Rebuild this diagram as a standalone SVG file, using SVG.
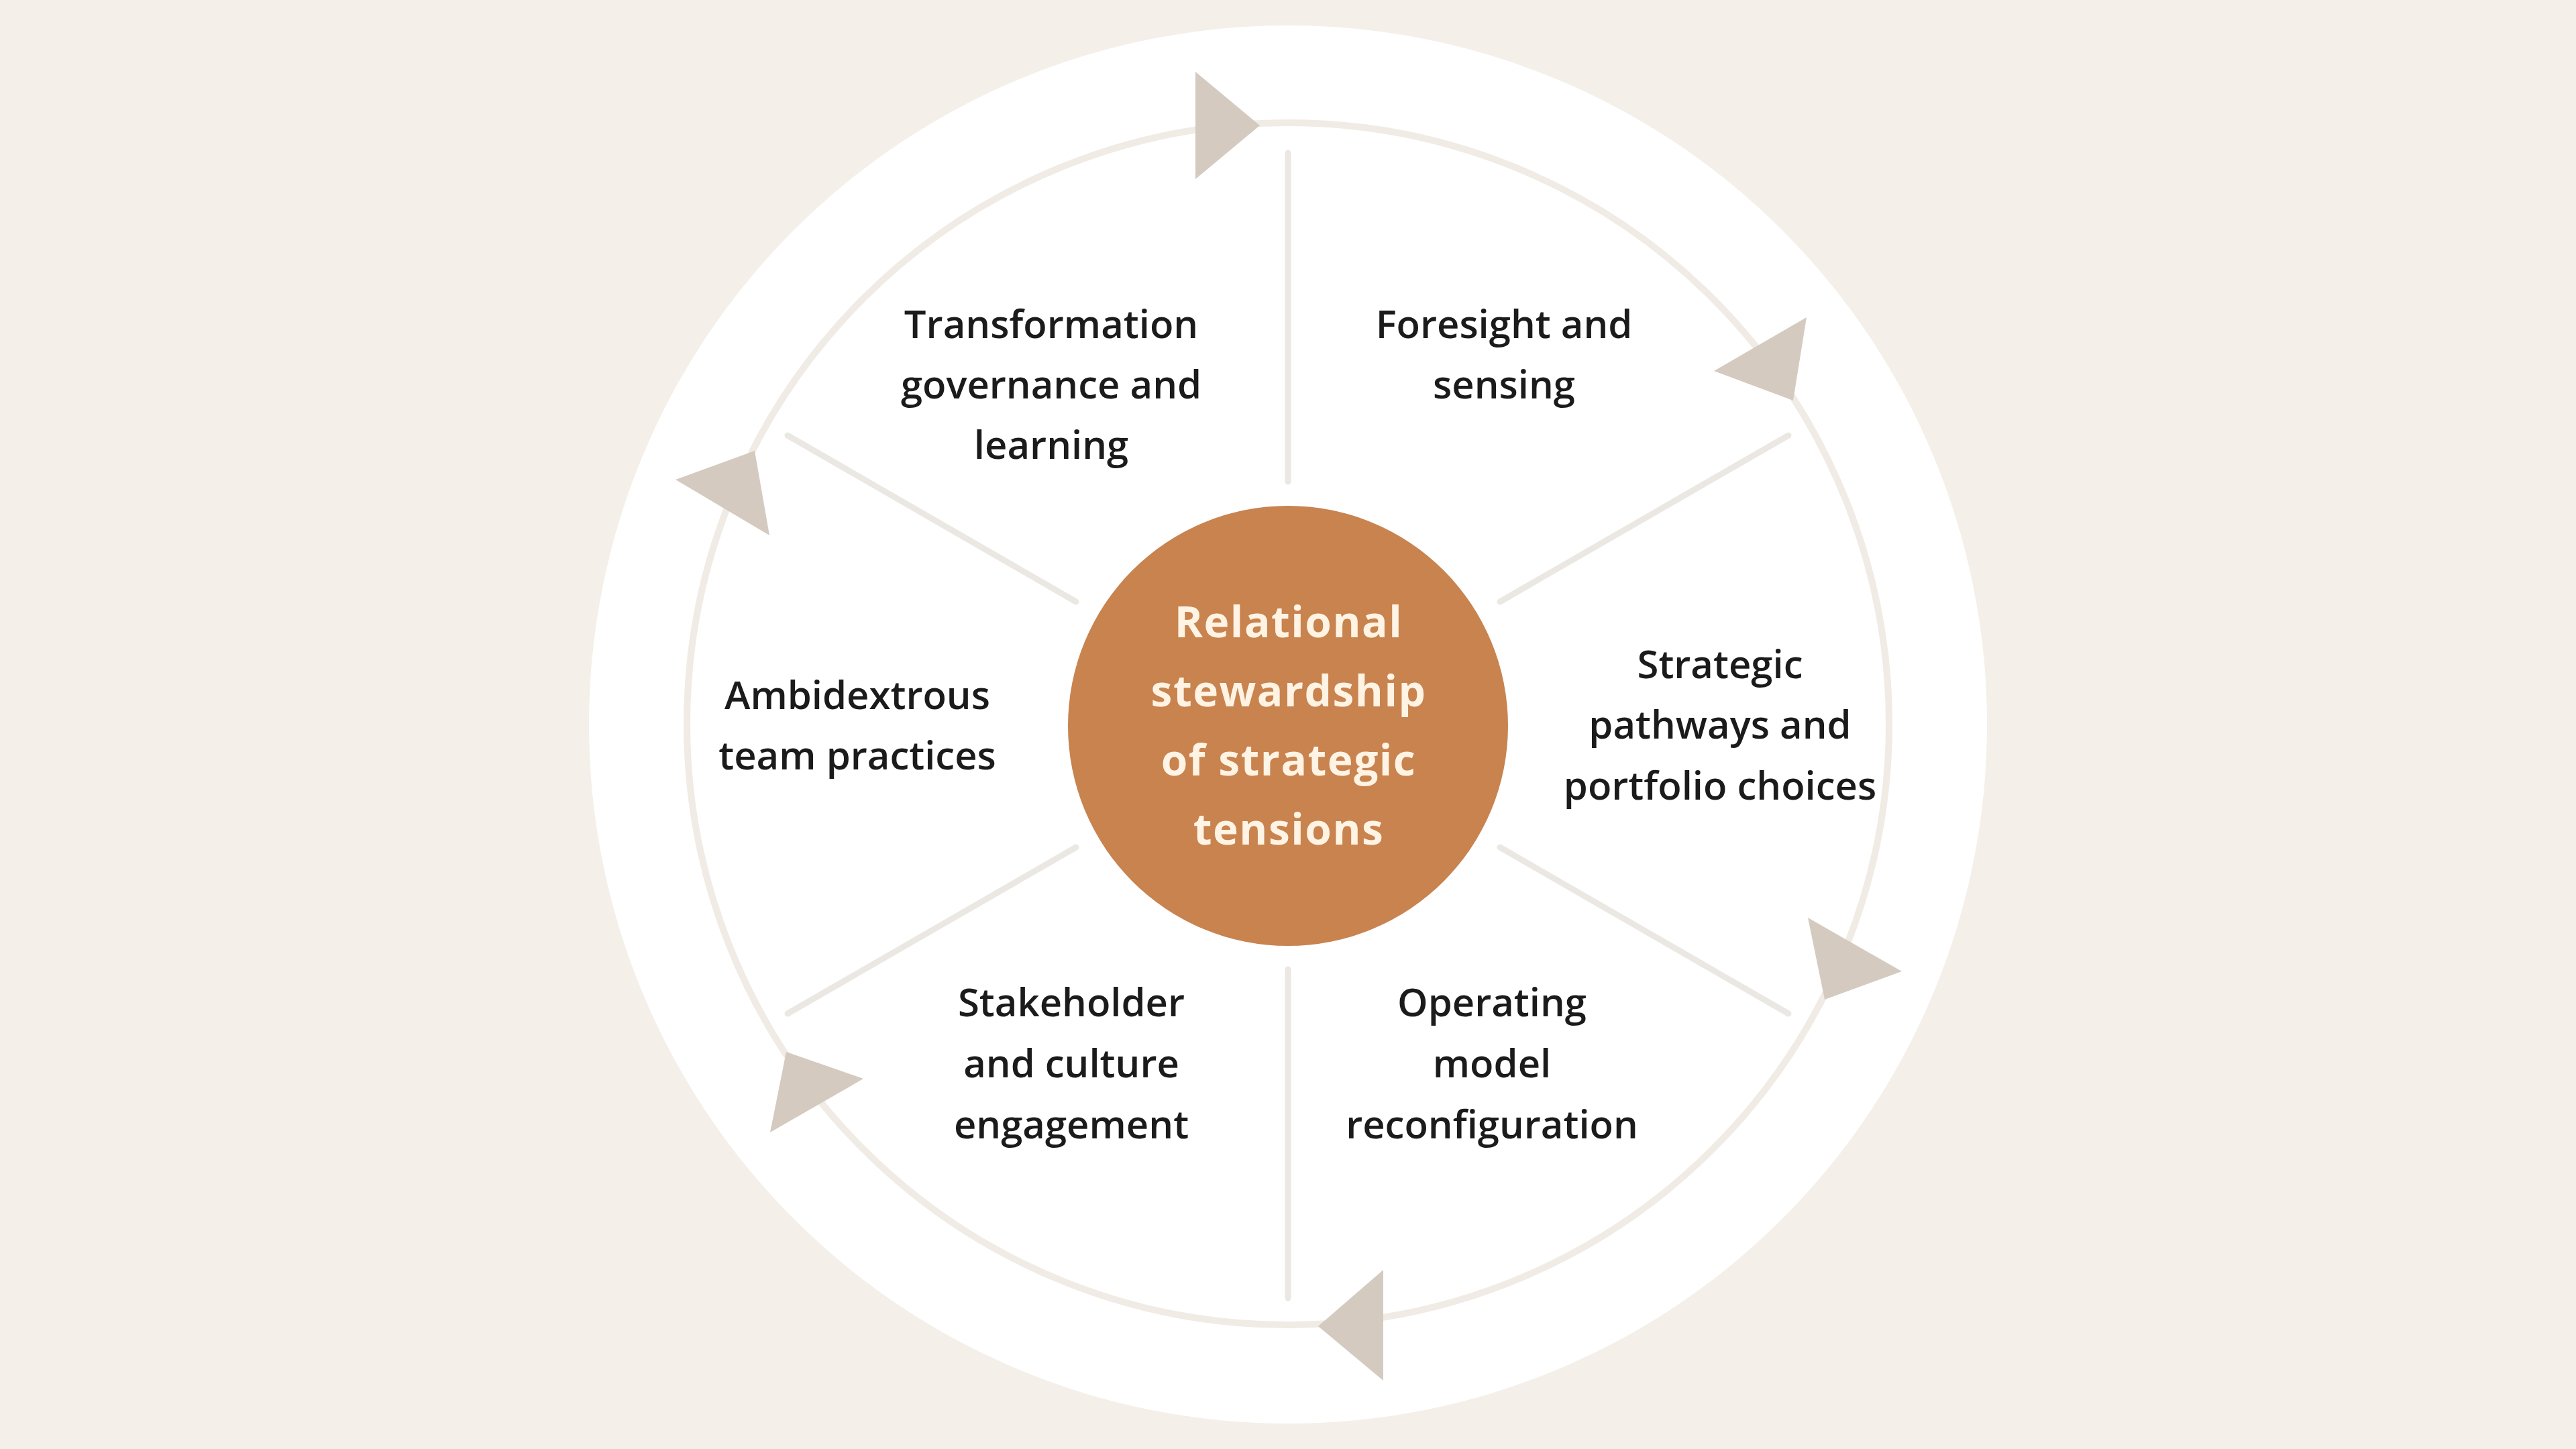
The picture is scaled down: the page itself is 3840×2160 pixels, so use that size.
<svg xmlns="http://www.w3.org/2000/svg" width="3840" height="2160" viewBox="0 0 3840 2160">
  <style>
    .lbl { font-family: "Open Sans", "Liberation Sans", sans-serif; font-size: 58px; font-weight: 600; fill: #1b1b1b; text-anchor: middle; }
    .ctr { font-family: "Open Sans", "Liberation Sans", sans-serif; font-size: 64px; font-weight: 700; fill: #fff3e4; text-anchor: middle; letter-spacing: 1.5px; }
    .spoke { stroke: #ebe8e3; stroke-width: 9; stroke-linecap: round; }
    .arrow { fill: #d4cabf; }
  </style>
  <rect x="0" y="0" width="3840" height="2160" fill="#f4f0e9"/>
  <circle id="outer-disc" cx="1920" cy="1080" r="1042" fill="#ffffff"/>
  <g id="connectors">
    <circle id="cycle-ring" cx="1920" cy="1079" r="896" fill="none" stroke="#f0ebe4" stroke-width="10"/>
    <line class="spoke" x1="1920" y1="718" x2="1920" y2="228"/>
    <line class="spoke" x1="1920" y1="1445" x2="1920" y2="1935"/>
    <line class="spoke" x1="2236" y1="897" x2="2666" y2="649"/>
    <line class="spoke" x1="1604" y1="897" x2="1174" y2="649"/>
    <line class="spoke" x1="1604" y1="1263" x2="1174" y2="1511"/>
    <line class="spoke" x1="2236" y1="1263" x2="2666" y2="1511"/>
    <polygon class="arrow" points="1782,107 1782,267 1878,187"/>
    <polygon class="arrow" points="2693,473 2673,597 2555,553"/>
    <polygon class="arrow" points="1125,672 1147,798 1007,715"/>
    <polygon class="arrow" points="2695,1368 2720,1490 2835,1448"/>
    <polygon class="arrow" points="1172,1568 1148,1688 1287,1608"/>
    <polygon class="arrow" points="2062,1893 2062,2058 1965,1977"/>
  </g>
  <g id="node-center">
    <circle cx="1920" cy="1082" r="328" fill="#c8834f"/>
    <text class="ctr" x="1921" y="950">Relational</text>
    <text class="ctr" x="1921" y="1053">stewardship</text>
    <text class="ctr" x="1921" y="1156">of strategic</text>
    <text class="ctr" x="1921" y="1259">tensions</text>
  </g>
  <g id="node-transformation">
    <text class="lbl" x="1567" y="504">Transformation</text>
    <text class="lbl" x="1567" y="594">governance and</text>
    <text class="lbl" x="1567" y="684">learning</text>
  </g>
  <g id="node-foresight">
    <text class="lbl" x="2242" y="504">Foresight and</text>
    <text class="lbl" x="2242" y="594">sensing</text>
  </g>
  <g id="node-ambidextrous">
    <text class="lbl" x="1278" y="1057">Ambidextrous</text>
    <text class="lbl" x="1278" y="1147">team practices</text>
  </g>
  <g id="node-strategic">
    <text class="lbl" x="2564" y="1011">Strategic</text>
    <text class="lbl" x="2564" y="1101">pathways and</text>
    <text class="lbl" x="2564" y="1192">portfolio choices</text>
  </g>
  <g id="node-stakeholder">
    <text class="lbl" x="1597" y="1515">Stakeholder</text>
    <text class="lbl" x="1597" y="1606">and culture</text>
    <text class="lbl" x="1597" y="1697">engagement</text>
  </g>
  <g id="node-operating">
    <text class="lbl" x="2224" y="1515">Operating</text>
    <text class="lbl" x="2224" y="1606">model</text>
    <text class="lbl" x="2224" y="1697">reconfiguration</text>
  </g>
</svg>
